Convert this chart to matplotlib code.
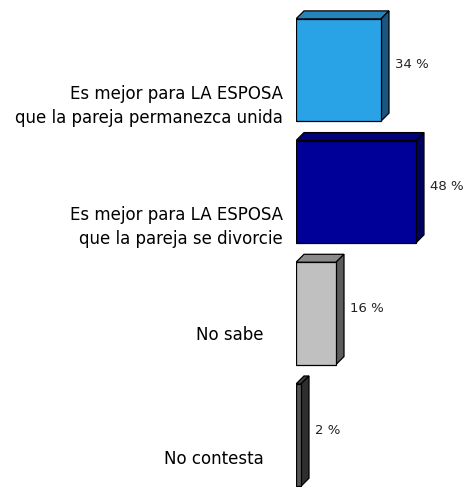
import matplotlib
matplotlib.use("Agg")
import matplotlib.pyplot as plt
from matplotlib.patches import Polygon

categories = ["Es mejor para LA ESPOSA\nque la pareja permanezca unida",
              "Es mejor para LA ESPOSA\nque la pareja se divorcie",
              "No sabe",
              "No contesta"]
values = [34, 48, 16, 2]
value_labels = ["34 %", "48 %", "16 %", "2 %"]

front_colors = ["#29a3e6", "#000099", "#c0c0c0", "#555555"]
top_colors = ["#2584bb", "#00007a", "#8a8a8a", "#3e3e3e"]
side_colors = ["#1a5680", "#000060", "#5c5c5c", "#2e2e2e"]
label_dy = [36, 35, 22, 24]   # pixel offsets of category labels below bar centre
label_dx = [-13, -13, -33, -32]

W, H = 469, 487
fig = plt.figure(figsize=(W / 100, H / 100), dpi=100)
x0px = 296
px_per_unit_x = 2.5
px_per_unit_y = 121.7
ytop_px = 70
ax = fig.add_axes([x0px / W, 0, 1 - x0px / W, 1])
ax.set_xlim(0, (W - x0px) / px_per_unit_x)
ax.set_ylim((H - ytop_px) / px_per_unit_y, -ytop_px / px_per_unit_y)
ax.axis("off")

bar_h = 0.84
dx = 8 / px_per_unit_x
dy = 8 / px_per_unit_y

for i, v in enumerate(values):
    top = i - bar_h / 2
    bot = i + bar_h / 2
    # top face
    ax.add_patch(Polygon([(0, top), (v, top), (v + dx, top - dy), (dx, top - dy)],
                         closed=True, facecolor=top_colors[i], edgecolor="black",
                         linewidth=0.9, zorder=2))
    # side face
    ax.add_patch(Polygon([(v, top), (v + dx, top - dy), (v + dx, bot - dy), (v, bot)],
                         closed=True, facecolor=side_colors[i], edgecolor="black",
                         linewidth=0.9, zorder=2))
    ax.barh(i, v, height=bar_h, left=0, color=front_colors[i], edgecolor="black",
            linewidth=0.9, zorder=3)
    ax.annotate(value_labels[i], xy=(v + dx, i), xytext=(6, 5), textcoords="offset pixels",
                ha="left", va="center", fontsize=9.5, color="#222222")
    ax.annotate(categories[i], xy=(0, i), xytext=(label_dx[i], -label_dy[i]),
                textcoords="offset pixels", ha="right", va="center", fontsize=12,
                color="black", linespacing=1.45, annotation_clip=False)

fig.savefig("out.png", dpi=100, facecolor="white")
